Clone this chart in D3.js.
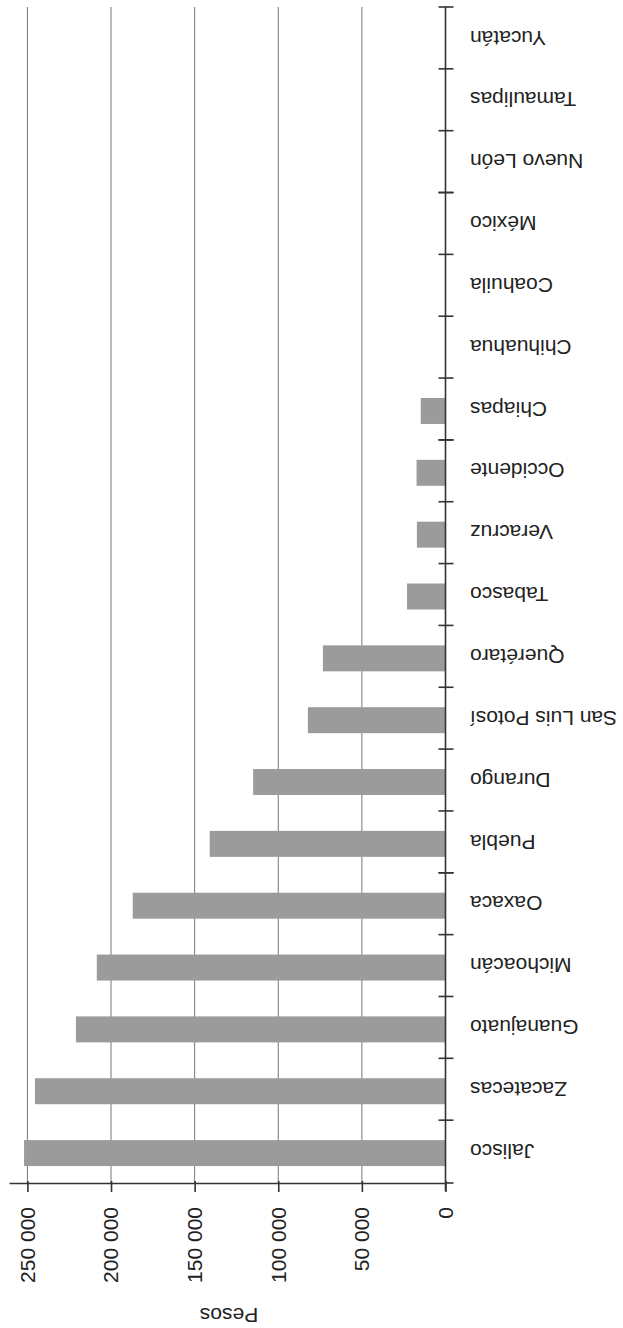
<!DOCTYPE html>
<html>
<head>
<meta charset="utf-8">
<script src="https://cdn.jsdelivr.net/npm/d3@7"></script>
<style>
  html, body { margin: 0; padding: 0; background: #fff; }
  svg { display: block; }
  text { font-family: "Liberation Sans", Arial, sans-serif; fill: #222; }
</style>
</head>
<body>
<svg id="chart" width="623" height="1328"></svg>
<script>
// Gasto por estado (pesos)
const categories = [
  "Jalisco", "Zacatecas", "Guanajuato", "Michoacán", "Oaxaca", "Puebla",
  "Durango", "San Luis Potosí", "Querétaro", "Tabasco", "Veracruz",
  "Occidente", "Chiapas", "Chihuahua", "Coahuila", "México",
  "Nuevo León", "Tamaulipas", "Yucatán"
];
const values = [
  252000, 245500, 221000, 208500, 187000, 141000,
  115000, 82300, 73300, 23000, 17100,
  17300, 14800, 0, 0, 0,
  0, 0, 0
];
const tickValues = [0, 50000, 100000, 150000, 200000, 250000];
const tickLabels = ["0", "50 000", "100 000", "150 000", "200 000", "250 000"];
const axisTitle = "Pesos";

const svg = d3.select("#chart");

// The page is laid out turned half a revolution: zero sits on the right,
// the first category at the bottom, and the text reads upside down.
const x = d3.scaleLinear().domain([0, 261000]).range([445.5, 9]);
const y = d3.scaleBand().domain(categories).range([1182, 7]).padding(0);

const axisY = 1183;
const plotTop = 7;

// Vertical gridlines
svg.append("g").selectAll("line")
  .data(tickValues.filter(d => d > 0))
  .join("line")
  .attr("x1", d => x(d)).attr("x2", d => x(d))
  .attr("y1", plotTop).attr("y2", axisY)
  .attr("stroke", "#777").attr("stroke-width", 1);

// Bars
const bw = y.bandwidth();
const barH = bw * 0.42;
svg.append("g").selectAll("rect")
  .data(categories.map((c, i) => ({ c, v: values[i] })).filter(d => d.v > 0))
  .join("rect")
  .attr("x", d => x(d.v))
  .attr("y", d => y(d.c) + (bw - barH) / 2 + 2)
  .attr("width", d => x(0) - x(d.v))
  .attr("height", barH)
  .attr("fill", "#9b9b9b");

// Value axis
const xAxis = d3.axisBottom(x)
  .tickValues(tickValues)
  .tickSize(9)
  .tickSizeOuter(0)
  .tickFormat("");
const gx = svg.append("g").attr("transform", `translate(0,${axisY})`).call(xAxis);
gx.select(".domain").attr("stroke", "#333").attr("stroke-width", 1.6);
gx.selectAll(".tick line").attr("stroke", "#333").attr("stroke-width", 1.6).attr("y1", -2);
gx.append("line").attr("x1", x(0)).attr("x2", x(0) + 8).attr("y1", 0).attr("y2", 0)
  .attr("stroke", "#333").attr("stroke-width", 1.6);

// Value tick labels, turned to read upward
svg.append("g").selectAll("text")
  .data(tickValues)
  .join("text")
  .attr("transform", d => `translate(${x(d)},1207) rotate(-90)`)
  .attr("text-anchor", "end")
  .attr("dy", "0.35em")
  .style("font-size", "21px")
  .text((d, i) => tickLabels[i]);

// Axis title
svg.append("text")
  .attr("transform", `translate(229,1308) rotate(180)`)
  .attr("text-anchor", "middle")
  .style("font-size", "21px")
  .text(axisTitle);

// Category axis with ticks at band edges
const gy = svg.append("g");
gy.append("line")
  .attr("x1", x(0)).attr("x2", x(0))
  .attr("y1", plotTop).attr("y2", axisY + 8)
  .attr("stroke", "#333").attr("stroke-width", 1.6);
const edgeSet = Array.from(new Set(categories.map(c => y(c)).concat(categories.map(c => y(c) + bw))));
gy.selectAll("line.tick")
  .data(edgeSet.filter(e => Math.abs(e - axisY) > 3))
  .join("line")
  .attr("class", "tick")
  .attr("x1", x(0) - 7).attr("x2", x(0) + 8)
  .attr("y1", d => d).attr("y2", d => d)
  .attr("stroke", "#333").attr("stroke-width", 1.6);

// Category labels, upside down
svg.append("g").selectAll("text")
  .data(categories)
  .join("text")
  .attr("transform", d => `translate(470,${y(d) + bw / 2}) rotate(180)`)
  .attr("text-anchor", "end")
  .attr("dy", "0.35em")
  .style("font-size", "21px")
  .text(d => d);
</script>
</body>
</html>
